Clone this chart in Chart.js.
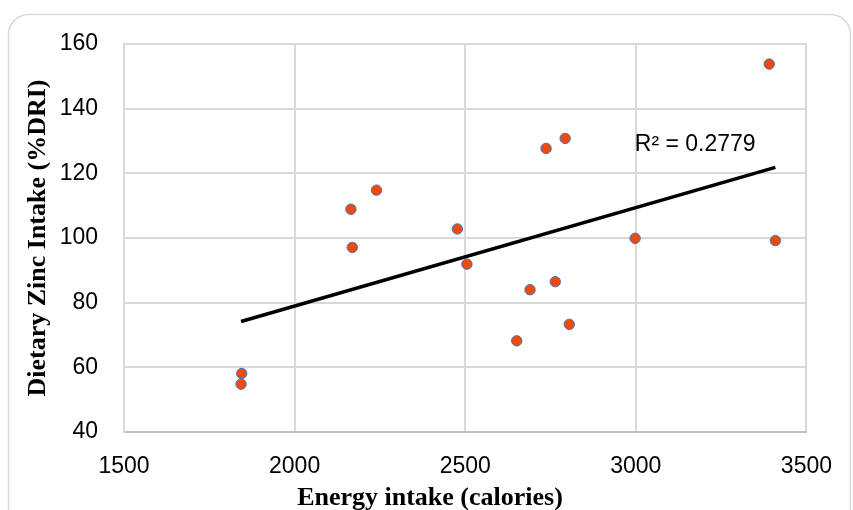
<!DOCTYPE html>
<html>
<head>
<meta charset="utf-8">
<script src="https://cdn.jsdelivr.net/npm/chart.js@4.4.0/dist/chart.umd.min.js"></script>
<style>
html,body{margin:0;padding:0;background:#fff;overflow:hidden}
#wrap{width:853px;height:510px;position:relative}
canvas{display:block}
</style>
</head>
<body>
<div id="wrap"><canvas id="c" width="853" height="510" style="width:853px;height:510px"></canvas></div>
<script>
// ---- data ----
const energyIntake = [1843, 1845, 2165, 2169, 2240, 2477, 2505, 2651, 2690, 2737, 2764, 2793, 2805, 2998, 3391, 3409];
const zincIntake   = [54.8, 58.1, 108.9, 97.1, 114.8, 102.8, 91.9, 68.2, 84.0, 127.7, 86.5, 130.8, 73.3, 99.9, 153.8, 99.2];
const xTicks = [1500, 2000, 2500, 3000, 3500];
const yTicks = [40, 60, 80, 100, 120, 140, 160];
const xTitle = 'Energy intake (calories)';
const yTitle = 'Dietary Zinc Intake (%DRI)';
const r2Label = 'R\u00B2 = 0.2779';
const r2Anchor = {x: 2997, y: 129};

// ---- linear least-squares trendline from the data ----
const n = energyIntake.length;
const mx = energyIntake.reduce((a,b)=>a+b,0)/n;
const my = zincIntake.reduce((a,b)=>a+b,0)/n;
let sxy = 0, sxx = 0;
for (let i=0;i<n;i++){ sxy += (energyIntake[i]-mx)*(zincIntake[i]-my); sxx += (energyIntake[i]-mx)**2; }
const slope = sxy/sxx, intercept = my - slope*mx;
const xMin = Math.min(...energyIntake), xMax = Math.max(...energyIntake);
const trend = [{x:xMin, y:intercept+slope*xMin},{x:xMax, y:intercept+slope*xMax}];

const points = energyIntake.map((x,i)=>({x, y: zincIntake[i]}));

const decor = {
  id: 'decor',
  beforeDraw(chart){
    const ctx = chart.ctx;
    ctx.save();
    ctx.fillStyle = '#fff';
    ctx.fillRect(0,0,chart.width,chart.height);
    ctx.strokeStyle = '#d9d9d9';
    ctx.lineWidth = 1.5;
    const x0=8.5,y0=14.5,x1=850.5,y1=530,r=20;
    ctx.beginPath();
    ctx.moveTo(x0+r,y0);
    ctx.lineTo(x1-r,y0);
    ctx.arcTo(x1,y0,x1,y0+r,r);
    ctx.lineTo(x1,y1);
    ctx.moveTo(x0,y1);
    ctx.lineTo(x0,y0+r);
    ctx.arcTo(x0,y0,x0+r,y0,r);
    ctx.stroke();
    ctx.restore();
  },
  afterDraw(chart){
    const ctx = chart.ctx;
    const sx = chart.scales.x, sy = chart.scales.y;
    ctx.save();
    ctx.fillStyle = '#000';
    ctx.font = 'bold 26px "Liberation Serif", "Times New Roman", serif';
    ctx.textAlign = 'center';
    ctx.textBaseline = 'middle';
    ctx.fillText(xTitle, 430, 498);
    ctx.font = '23px "Liberation Sans", Arial, sans-serif';
    ctx.textAlign = 'left';
    ctx.fillText(r2Label, sx.getPixelForValue(r2Anchor.x), sy.getPixelForValue(r2Anchor.y));
    ctx.restore();
  }
};

new Chart(document.getElementById('c'), {
  type: 'scatter',
  data: {
    datasets: [
      {
        type: 'line',
        label: 'Linear trend',
        data: trend,
        borderColor: '#000',
        borderWidth: 3.5,
        pointRadius: 0,
        fill: false,
        tension: 0
      },
      {
        label: 'Zinc intake',
        data: points,
        pointRadius: 5.2,
        pointBackgroundColor: '#EE4A0A',
        pointBorderColor: '#4472C4',
        pointBorderWidth: 1,
        showLine: false
      }
    ]
  },
  options: {
    responsive: false,
    devicePixelRatio: 1,
    animation: false,
    layout: {padding: {top: 44, right: 42, left: 0, bottom: 0}},
    plugins: {legend: {display: false}, tooltip: {enabled: false}},
    scales: {
      x: {
        type: 'linear',
        min: xTicks[0], max: xTicks[xTicks.length-1],
        afterBuildTicks: s => { s.ticks = xTicks.map(v=>({value:v})); },
        afterFit: s => { s.height = 78; },
        grid: {color: '#d9d9d9', lineWidth: 2, drawTicks: false},
        border: {color: '#bfbfbf', width: 2},
        ticks: {color: '#000', padding: 21, font: {family: '"Liberation Sans", Arial, sans-serif', size: 23}, maxRotation: 0,
                callback: v => String(v)},
        title: {display: false}
      },
      y: {
        type: 'linear',
        min: yTicks[0], max: yTicks[yTicks.length-1],
        afterBuildTicks: s => { s.ticks = yTicks.map(v=>({value:v})); },
        afterFit: s => { s.width = 124; },
        grid: {color: '#d9d9d9', lineWidth: 2, drawTicks: false},
        border: {color: '#d9d9d9', width: 2},
        ticks: {color: '#000', padding: 26, font: {family: '"Liberation Sans", Arial, sans-serif', size: 23},
                callback: v => String(v)},
        title: {display: true, text: yTitle, color: '#000', padding: {top: 25, bottom: 0},
                font: {family: '"Liberation Serif", "Times New Roman", serif', size: 26, weight: 'bold', lineHeight: 1}}
      }
    }
  },
  plugins: [decor]
});
</script>
</body>
</html>
